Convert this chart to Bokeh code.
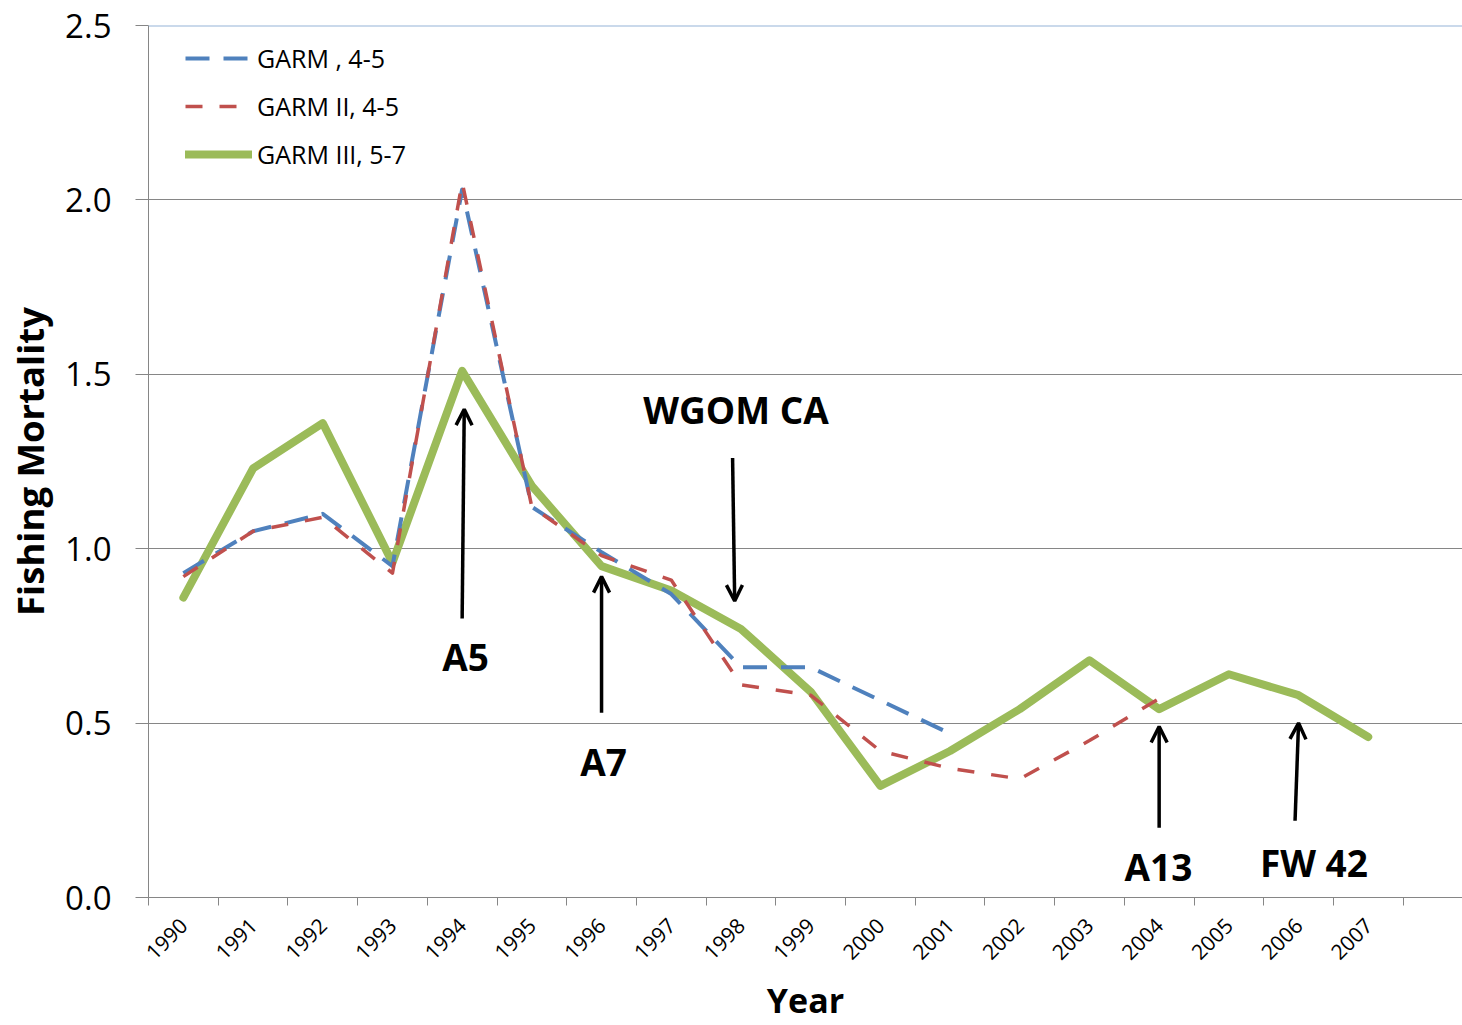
import math
from bokeh.plotting import figure
from bokeh.models import (Range1d, FixedTicker, Span, Label, Arrow, OpenHead,
                          Legend, LegendItem)
from bokeh.embed import file_html
from bokeh.resources import INLINE

# ---- data ----
years = [1990, 1991, 1992, 1993, 1994, 1995, 1996, 1997, 1998, 1999,
         2000, 2001, 2002, 2003, 2004, 2005, 2006, 2007]
tick_labels = [str(y) for y in years]

garm1_years = [1990, 1991, 1992, 1993, 1994, 1995, 1996, 1997, 1998, 1999, 2000, 2001]
garm1 = [0.93, 1.05, 1.10, 0.95, 2.03, 1.12, 0.99, 0.87, 0.66, 0.66, 0.565, 0.47]

garm2_years = [1990, 1991, 1992, 1993, 1994, 1995, 1996, 1997, 1998, 1999,
               2000, 2001, 2002, 2003, 2004]
garm2 = [0.92, 1.05, 1.09, 0.93, 2.05, 1.12, 0.98, 0.91, 0.61, 0.58,
         0.42, 0.37, 0.34, 0.45, 0.57]

garm3 = [0.86, 1.23, 1.36, 0.96, 1.51, 1.18, 0.95, 0.88, 0.77, 0.59,
         0.32, 0.42, 0.54, 0.68, 0.54, 0.64, 0.58, 0.46]

# annotations: (text, text_x, text_y, arrow_x0, arrow_y0, arrow_x1, arrow_y1)
notes = [
    ("A5", 1994.05, 0.69, 1994.0, 0.80, 1994.03, 1.40),
    ("A7", 1996.03, 0.39, 1996.0, 0.53, 1996.0, 0.92),
    ("WGOM CA", 1997.93, 1.40, 1997.88, 1.26, 1997.91, 0.85),
    ("A13", 2003.99, 0.09, 2004.0, 0.20, 2004.0, 0.49),
    ("FW 42", 2006.22, 0.10, 2005.95, 0.22, 2006.0, 0.50),
]

BLUE = "#4F81BD"
RED = "#C0504D"
GREEN = "#9BBB59"
GRID = "#868686"
FONT = "Open Sans"

W, H = 1462, 1025
left, top, bottom = 148, 25, 126
frame_w = W - left
frame_h = H - top - bottom
cat_px = 69.7

p = figure(width=W, height=H, output_backend="svg", toolbar_location=None,
           x_range=Range1d(1989.5, 1989.5 + frame_w / cat_px),
           y_range=Range1d(0, 2.5),
           min_border_left=left, min_border_right=0,
           min_border_top=top, min_border_bottom=bottom)
p.outline_line_color = None
p.background_fill_color = "white"
p.border_fill_color = "white"

# x axis: labels at centres, tick marks at category boundaries
p.xaxis.ticker = FixedTicker(ticks=years,
                             minor_ticks=[y - 0.5 for y in years] + [years[-1] + 0.5])
p.xaxis.major_label_overrides = {y: s for y, s in zip(years, tick_labels)}
p.xaxis.major_tick_line_color = None
p.xaxis.minor_tick_line_color = GRID
p.xaxis.minor_tick_out = 8
p.xaxis.minor_tick_in = 0
p.xaxis.axis_line_color = GRID
p.xaxis.major_label_orientation = math.pi / 4
p.xaxis.major_label_text_font = FONT
p.xaxis.major_label_text_font_size = "21px"
p.xaxis.major_label_text_color = "black"
p.xaxis.major_label_standoff = 16
p.xaxis.axis_label = "Year"
p.xaxis.axis_label_text_font = FONT
p.xaxis.axis_label_text_font_style = "bold"
p.xaxis.axis_label_text_font_size = "34px"
p.xaxis.axis_label_text_color = "black"
p.xaxis.axis_label_standoff = 7

p.yaxis.ticker = FixedTicker(ticks=[0, 0.5, 1.0, 1.5, 2.0, 2.5])
p.yaxis.major_label_overrides = {0: "0.0", 0.5: "0.5", 1.0: "1.0", 1.5: "1.5",
                                 2.0: "2.0", 2.5: "2.5"}
p.yaxis.major_tick_line_color = GRID
p.yaxis.major_tick_out = 13
p.yaxis.major_tick_in = 0
p.yaxis.minor_tick_line_color = None
p.yaxis.axis_line_color = GRID
p.yaxis.major_label_text_font = FONT
p.yaxis.major_label_text_font_size = "33px"
p.yaxis.major_label_text_color = "black"
p.yaxis.major_label_standoff = 24
p.yaxis.axis_label = "Fishing Mortality"
p.yaxis.axis_label_text_font = FONT
p.yaxis.axis_label_text_font_style = "bold"
p.yaxis.axis_label_text_font_size = "36.5px"
p.yaxis.axis_label_text_color = "black"
p.yaxis.axis_label_standoff = 7

p.xgrid.visible = False
p.ygrid.ticker = FixedTicker(ticks=[0.5, 1.0, 1.5, 2.0])
p.ygrid.grid_line_color = GRID
p.ygrid.grid_line_width = 1
p.add_layout(Span(location=2.5, dimension="width", line_color="#95B3D7", line_width=2))

# series
r3 = p.line(years, garm3, line_color=GREEN, line_width=8, line_join="round",
            line_cap="round")
r1 = p.line(garm1_years, garm1, line_color=BLUE, line_width=4, line_dash="24 14",
            line_join="round")
r2 = p.line(garm2_years, garm2, line_color=RED, line_width=3.5, line_dash="17 17",
            line_join="round")

legend = Legend(items=[LegendItem(label="GARM , 4-5", renderers=[r1]),
                       LegendItem(label="GARM II, 4-5", renderers=[r2]),
                       LegendItem(label="GARM III, 5-7", renderers=[r3])],
                location=(37, frame_h - 18 - 130))
legend.border_line_color = None
legend.background_fill_alpha = 0
legend.padding = 0
legend.margin = 0
legend.spacing = 14
legend.glyph_width = 67
legend.glyph_height = 24
legend.label_height = 24
legend.label_standoff = 5
legend.label_text_font = FONT
legend.label_text_font_size = "25px"
legend.label_text_color = "black"
p.add_layout(legend)

for text, tx, ty, x0, y0, x1, y1 in notes:
    p.add_layout(Arrow(x_start=x0, y_start=y0, x_end=x1, y_end=y1,
                       line_color="black", line_width=3.5,
                       end=OpenHead(size=16, line_width=3.5, line_color="black")))
    p.add_layout(Label(x=tx, y=ty, text=text, text_align="center",
                       text_baseline="middle", text_font=FONT,
                       text_font_style="bold", text_font_size="37px",
                       text_color="black"))

open("out.html", "w").write(file_html(p, INLINE))
